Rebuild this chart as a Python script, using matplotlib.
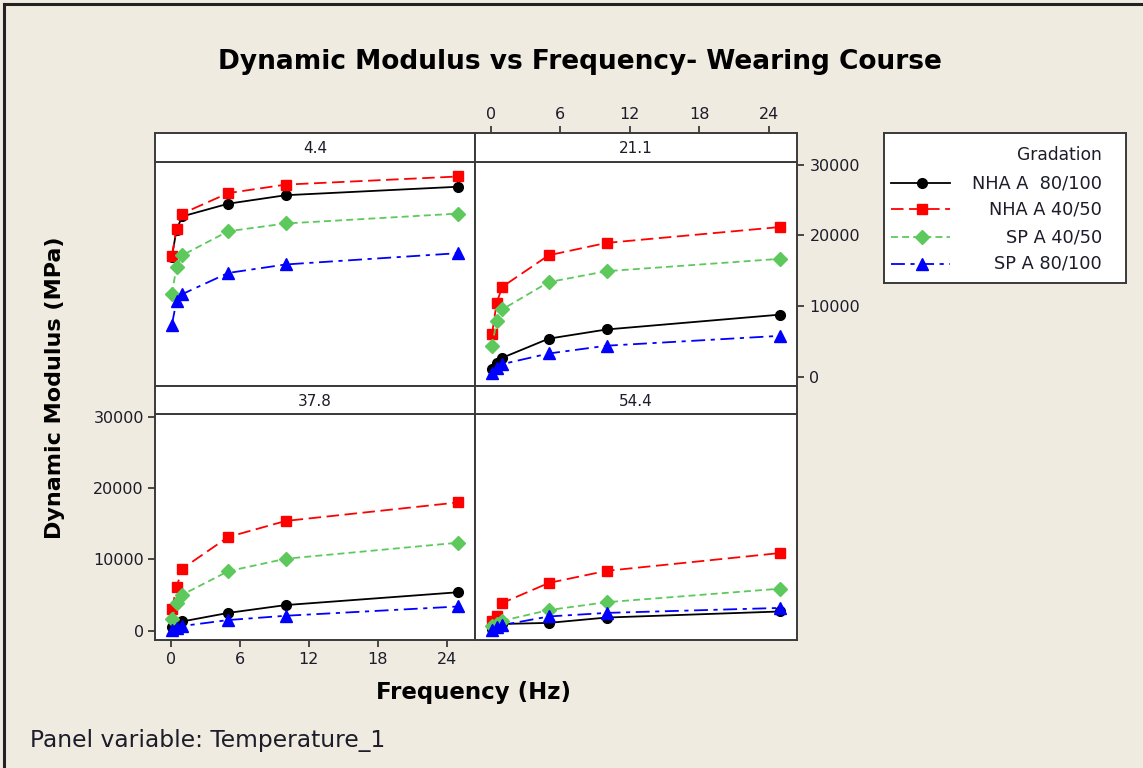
import matplotlib
matplotlib.use("Agg")
import matplotlib.pyplot as plt
from matplotlib.lines import Line2D
import numpy as np

plt.rcParams['font.family'] = ['DejaVu Sans']
plt.rcParams['lines.scale_dashes'] = False

# ---------------- data ----------------
freq = [0.1, 0.5, 1, 5, 10, 25]
temperatures = ["4.4", "21.1", "37.8", "54.4"]
gradations = ["NHA A  80/100", "NHA A 40/50", "SP A 40/50", "SP A 80/100"]

nha_80_100 = {
    "4.4": [17000, 20800, 22700, 24500, 25700, 26900],
    "21.1": [1100, 2000, 2700, 5400, 6700, 8800],
    "37.8": [550, 950, 1300, 2500, 3600, 5400],
    "54.4": [300, 600, 950, 1100, 1850, 2700],
}
nha_40_50 = {
    "4.4": [17100, 20900, 23100, 26000, 27200, 28350],
    "21.1": [6000, 10500, 12750, 17200, 18950, 21200],
    "37.8": [3000, 6100, 8700, 13150, 15400, 18000],
    "54.4": [1300, 2100, 3900, 6700, 8400, 10900],
}
sp_40_50 = {
    "4.4": [11700, 15600, 17200, 20600, 21700, 23100],
    "21.1": [4300, 7900, 9550, 13400, 14950, 16700],
    "37.8": [1700, 3950, 5050, 8350, 10100, 12350],
    "54.4": [600, 950, 1400, 2900, 4000, 5900],
}
sp_80_100 = {
    "4.4": [7400, 10700, 11700, 14700, 15900, 17500],
    "21.1": [600, 1200, 1800, 3300, 4400, 5800],
    "37.8": [100, 370, 660, 1500, 2100, 3400],
    "54.4": [100, 500, 800, 2000, 2500, 3200],
}
series_values = [nha_80_100, nha_40_50, sp_40_50, sp_80_100]

x_ticks = [0, 6, 12, 18, 24]
y_ticks = [0, 10000, 20000, 30000]

# ---------------- styles ----------------
BG = "#F0EBE1"
FRAME = "#3a3a3a"
TXT = "#1c1c2a"
styles = [
    dict(color="black", marker="o", ms=7, ls="-"),
    dict(color="#FF0000", marker="s", ms=7, ls=(0, (9, 4))),
    dict(color="#5DC95D", marker="D", ms=7, ls=(0, (5, 3))),
    dict(color="#0000FF", marker="^", ms=8, ls=(0, (10, 4, 3, 4))),
]

W, H = 1143, 768
fig = plt.figure(figsize=(W / 100, H / 100), dpi=100, facecolor=BG)

def fx(px):
    return px / W

def fy(py):
    return 1 - py / H

# panel geometry (pixels)
cols = [(155, 475), (475, 797)]
rows = [(133, 162, 386), (386, 414, 640)]  # strip top, data top, data bottom
XLIM = (-1.37, 26.46)
YLIM = (-1300, 30400)

tick_kw = dict(length=5, width=1.3, color=FRAME, labelsize=11.5,
               labelcolor=TXT, direction="out")

axes = {}
strips = {}
for r, (stop, dtop, dbot) in enumerate(rows):
    for c, (x0, x1) in enumerate(cols):
        t = temperatures[r * 2 + c]
        ax = fig.add_axes([fx(x0), fy(dbot), fx(x1 - x0), (dbot - dtop) / H])
        ax.set_facecolor("white")
        ax.set_xlim(*XLIM)
        ax.set_ylim(*YLIM)
        for s in ax.spines.values():
            s.set_color(FRAME)
            s.set_linewidth(1.4)
        ax.tick_params(axis="both", which="both", length=0, labelleft=False,
                       labelbottom=False)
        ax.set_xticks(x_ticks)
        ax.set_yticks(y_ticks)
        for vals, st in zip(series_values, styles):
            ax.plot(freq, vals[t], color=st["color"], ls=st["ls"], lw=1.3,
                    marker=st["marker"], ms=st["ms"], mec=st["color"],
                    mfc=st["color"], clip_on=False, zorder=3)
        # strip
        sax = fig.add_axes([fx(x0), fy(dtop), fx(x1 - x0), (dtop - stop) / H])
        sax.set_facecolor("white")
        sax.set_xlim(*XLIM)
        sax.set_xticks([])
        sax.set_yticks([])
        for s in sax.spines.values():
            s.set_color(FRAME)
            s.set_linewidth(1.4)
        sax.text(0.5, 0.45, t, ha="center", va="center", fontsize=11,
                 color=TXT, transform=sax.transAxes)
        axes[t] = ax
        strips[t] = sax

# bottom-left: left & bottom ticks
ax = axes["37.8"]
ax.tick_params(axis="y", left=True, labelleft=True, pad=3, **tick_kw)
ax.tick_params(axis="x", bottom=True, labelbottom=True, pad=4, **tick_kw)
# top-right: right ticks on the data axes, top ticks on the strip
ax = axes["21.1"]
ax.tick_params(axis="y", right=True, labelright=True, left=False, pad=4, **tick_kw)
sax = strips["21.1"]
sax.set_xticks(x_ticks)
sax.tick_params(axis="x", top=True, labeltop=True, bottom=False,
                labelbottom=False, pad=3, **tick_kw)

# titles & labels
fig.text(fx(580), fy(62), "Dynamic Modulus vs Frequency- Wearing Course",
         ha="center", va="center", fontsize=19, fontweight="bold", color="black")
fig.text(fx(55), fy(388), "Dynamic Modulus (MPa)", ha="center", va="center",
         rotation=90, fontsize=16, fontweight="bold", color="black")
fig.text(fx(473), fy(692), "Frequency (Hz)", ha="center", va="center",
         fontsize=16.5, fontweight="bold", color="black")
fig.text(fx(30), fy(740), "Panel variable: Temperature_1", ha="left",
         va="center", fontsize=16.8, color=TXT)

# legend box
lx0, ly0, lx1, ly1 = 884, 133, 1126, 283
lax = fig.add_axes([fx(lx0), fy(ly1), fx(lx1 - lx0), (ly1 - ly0) / H])
lax.set_facecolor("white")
lax.set_xlim(0, lx1 - lx0)
lax.set_ylim(ly1 - ly0, 0)
lax.set_xticks([])
lax.set_yticks([])
for s in lax.spines.values():
    s.set_color(FRAME)
    s.set_linewidth(1.4)
lax.text(218, 22, "Gradation", ha="right", va="center", fontsize=12.3, color=TXT)
for i, (lab, st) in enumerate(zip(gradations, styles)):
    yy = [50, 76.5, 104, 131][i]
    lax.add_line(Line2D([7, 66], [yy, yy], color=st["color"], ls=st["ls"], lw=1.3))
    lax.add_line(Line2D([38], [yy], color=st["color"], marker=st["marker"],
                        ms=st["ms"], mfc=st["color"], mec=st["color"], ls="none"))
    lax.text(218, yy, lab, ha="right", va="center", fontsize=12.8, color=TXT)

# outer frame (left & top edges visible)
fig.add_artist(Line2D([fx(4), fx(4)], [fy(4), 0], color="#222222", lw=2.2))
fig.add_artist(Line2D([fx(4), 1], [fy(4), fy(4)], color="#222222", lw=2.2))

fig.savefig("out.png", dpi=100, facecolor=BG)
